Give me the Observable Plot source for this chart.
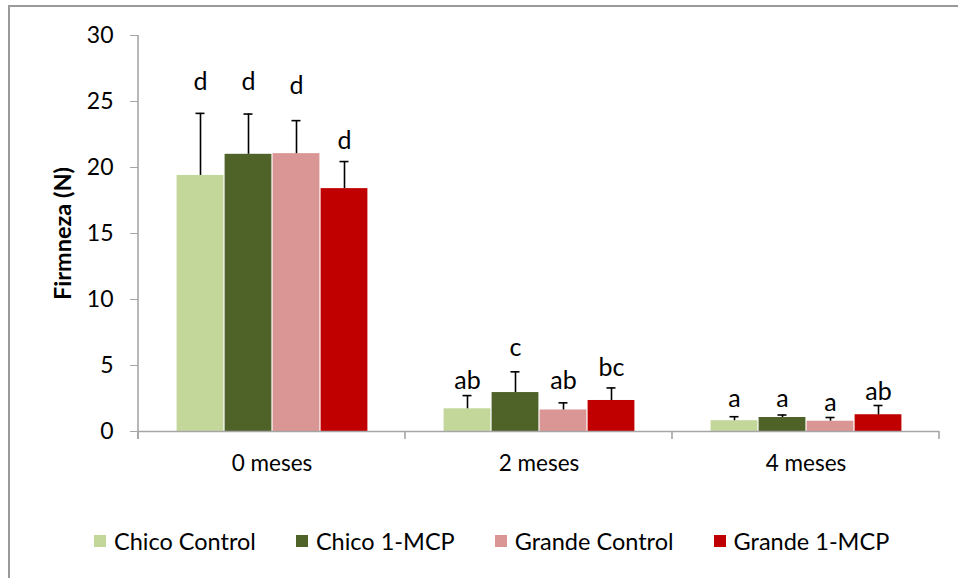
<!DOCTYPE html>
<html>
<head>
<meta charset="utf-8">
<script src="https://cdn.jsdelivr.net/npm/d3@7"></script>
<script src="https://cdn.jsdelivr.net/npm/@observablehq/plot@0.6"></script>
<style>
  body { margin: 0; background: #fff; font-family: Lato, "Open Sans", sans-serif; }
  #wrap { position: relative; width: 958px; height: 578px; overflow: hidden; }
  #box { position: absolute; left: 8px; top: 5px; width: 1000px; height: 1000px; border: 2px solid #9a9a9a; box-sizing: border-box; }
  #chart { position: absolute; left: 0; top: 0; }
  #legend { position: absolute; left: 94px; top: 527px; display: flex; align-items: center; font-size: 23.5px; color: #000; white-space: nowrap; }
  .item { display: flex; align-items: center; margin-right: 40px; }
  .sw { width: 12px; height: 12px; margin-right: 8px; }
  [aria-label="y-axis label"] { font-weight: bold; font-size: 23.5px; }
</style>
</head>
<body>
<div id="wrap">
  <div id="box"></div>
  <div id="chart"></div>
  <div id="legend"></div>
</div>
<script>
const meses = ["0 meses", "2 meses", "4 meses"];
const series = ["Chico Control", "Chico 1-MCP", "Grande Control", "Grande 1-MCP"];
const colors = ["#c4d79b", "#4f6228", "#da9694", "#c00000"];

// mean firmness (N) per month, one array per series
const chicoControl = [19.4, 1.72, 0.82];
const chico1MCP = [21.0, 2.95, 1.06];
const grandeControl = [21.05, 1.63, 0.78];
const grande1MCP = [18.4, 2.35, 1.27];

// standard deviation (upper error bar)
const sdChicoControl = [4.7, 1.0, 0.3];
const sdChico1MCP = [3.05, 1.57, 0.19];
const sdGrandeControl = [2.5, 0.54, 0.28];
const sdGrande1MCP = [2.05, 0.95, 0.7];

// significance letters and the value at which each sits
const letChicoControl = ["d", "ab", "a"];
const letChico1MCP = ["d", "c", "a"];
const letGrandeControl = ["d", "ab", "a"];
const letGrande1MCP = ["d", "bc", "ab"];
const labYChicoControl = [25.85, 3.2, 1.88];
const labYChico1MCP = [25.9, 5.7, 1.88];
const labYGrandeControl = [25.6, 3.2, 1.57];
const labYGrande1MCP = [21.4, 4.2, 2.35];

const yTicks = [0, 5, 10, 15, 20, 25, 30];

const vals = [chicoControl, chico1MCP, grandeControl, grande1MCP];
const sds = [sdChicoControl, sdChico1MCP, sdGrandeControl, sdGrande1MCP];
const lets = [letChicoControl, letChico1MCP, letGrandeControl, letGrande1MCP];
const labs = [labYChicoControl, labYChico1MCP, labYGrandeControl, labYGrande1MCP];

const data = [];
meses.forEach((m, i) => series.forEach((s, j) => data.push({
  mes: m, serie: s, value: vals[j][i], top: vals[j][i] + sds[j][i],
  letter: lets[j][i], labelY: labs[j][i]
})));

const gray = "#a6a6a6";

const plot = Plot.plot({
  width: 958,
  height: 500,
  marginLeft: 137,
  marginRight: 18,
  marginTop: 35,
  marginBottom: 69,
  style: { fontFamily: "Lato, 'Open Sans', sans-serif", fontSize: "23px", color: "#000", background: "transparent" },
  fx: { domain: meses, padding: 0, label: null },
  x: { domain: series, paddingInner: 0, paddingOuter: 0.76, axis: null },
  y: { domain: [0, 30], label: null },
  color: { domain: series, range: colors },
  marks: [
    Plot.axisY({ ticks: yTicks, tickSize: 8, tickPadding: 17, stroke: gray, fontSize: 23, label: "Firmneza (N)", labelAnchor: "center", labelArrow: false, labelOffset: 84 }),
    Plot.axisFx({ anchor: "bottom", tickSize: 0, tickPadding: 24, fontSize: 22.5, label: null }),
    Plot.barY(data, { fx: "mes", x: "serie", y: "value", fill: "serie", insetLeft: 0.6, insetRight: 0.6 }),
    Plot.ruleX(data, { fx: "mes", x: "serie", y1: "value", y2: "top", stroke: "#000", strokeWidth: 1.6 }),
    Plot.tickY(data, { fx: "mes", x: "serie", y: "top", stroke: "#000", strokeWidth: 1.6, insetLeft: 19.5, insetRight: 19.5 }),
    Plot.text(data, { fx: "mes", x: "serie", y: "labelY", text: "letter", lineAnchor: "bottom", fontSize: 25, fill: "#000" }),
    Plot.ruleY([0], { stroke: gray, strokeWidth: 1.6 })
  ]
});

document.getElementById("chart").appendChild(plot);

// y-axis line and category separators drawn with the plot's own scales
const fx = plot.scale("fx");
const y = plot.scale("y");
const svg = d3.select(plot);
const left = fx.apply(meses[0]);
const y0 = y.apply(0);
svg.append("line")
  .attr("x1", left).attr("x2", left)
  .attr("y1", y.apply(yTicks[yTicks.length - 1])).attr("y2", y0 + 8)
  .attr("stroke", gray).attr("stroke-width", 1.6);
const bounds = meses.map(m => fx.apply(m)).concat([fx.apply(meses[meses.length - 1]) + fx.bandwidth]);
svg.append("g").selectAll("line").data(bounds).join("line")
  .attr("x1", d => d).attr("x2", d => d)
  .attr("y1", y0).attr("y2", y0 + 8)
  .attr("stroke", gray).attr("stroke-width", 1.6);

const legend = d3.select("#legend");
series.forEach((s, i) => {
  const it = legend.append("div").attr("class", "item");
  it.append("div").attr("class", "sw").style("background", colors[i]);
  it.append("span").text(s);
});
</script>
</body>
</html>
